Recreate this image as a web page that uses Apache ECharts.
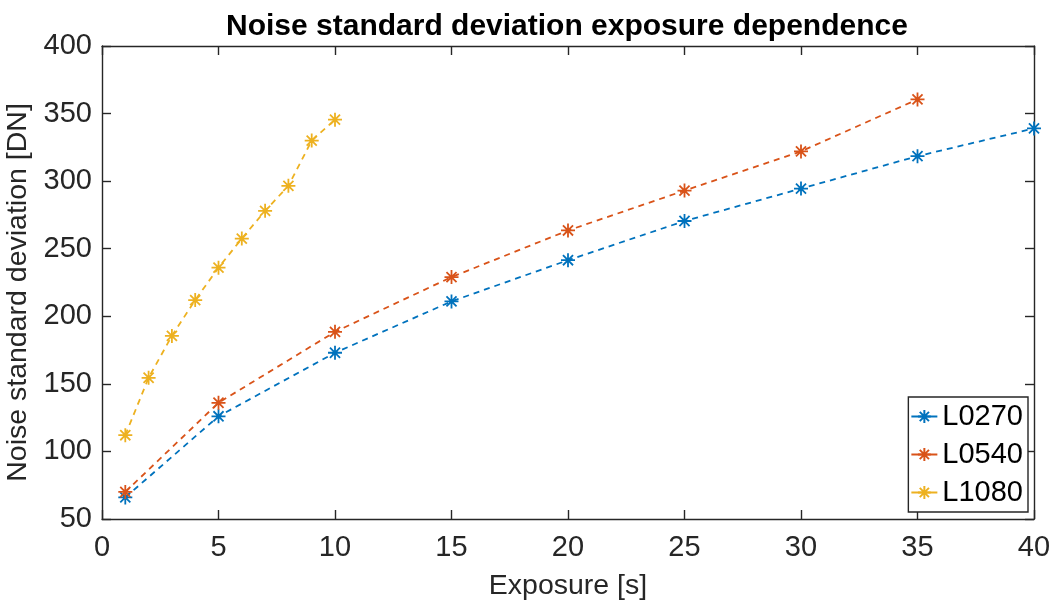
<!DOCTYPE html>
<html>
<head>
<meta charset="utf-8">
<script src="https://cdn.jsdelivr.net/npm/echarts@6/dist/echarts.min.js"></script>
<style>
  html, body { margin: 0; padding: 0; background: #fff; }
  #chart { width: 1055px; height: 605px; }
</style>
</head>
<body>
<div id="chart"></div>
<script>
// Exposure times [s] for each lamp level
const exposureL0270 = [1, 5, 10, 15, 20, 25, 30, 35, 40];
const exposureL0540 = [1, 5, 10, 15, 20, 25, 30, 35];
const exposureL1080 = [1, 2, 3, 4, 5, 6, 7, 8, 9, 10];

// Measured noise standard deviation [DN]
const noiseL0270 = [66, 126, 173, 211, 241.5, 270.5, 294.5, 318.5, 339];
const noiseL0540 = [70, 136, 188.5, 229, 263.5, 293, 322, 360.5];
const noiseL1080 = [112, 154.5, 185.5, 212, 236, 257.5, 278, 296.5, 330, 345.5];

const seriesNames = ['L0270', 'L0540', 'L1080'];
const seriesColors = ['#0072BD', '#D95319', '#EDB120'];

const xTicks = { min: 0, max: 40, interval: 5 };
const yTicks = { min: 50, max: 400, interval: 50 };

const FONT = "'Liberation Sans', Arial, Helvetica, sans-serif";
const AXIS_COLOR = '#262626';

// eight-spoke asterisk marker
const ASTERISK = 'path://M0,-1L0,1M-1,0L1,0M-0.72,-0.72L0.72,0.72M-0.72,0.72L0.72,-0.72';

function zip(xs, ys) {
  return xs.map((x, i) => [x, ys[i]]);
}

function makeSeries(name, xs, ys, color) {
  return {
    name: name,
    type: 'line',
    data: zip(xs, ys),
    clip: false,
    symbol: ASTERISK,
    symbolSize: 14,
    itemStyle: { color: 'rgba(0,0,0,0)', borderColor: color, borderWidth: 1.8 },
    lineStyle: { color: color, width: 1.8, type: [6, 5] },
    emphasis: { disabled: true },
    animation: false
  };
}

function axisLine() {
  return { show: true, onZero: false, lineStyle: { color: AXIS_COLOR, width: 1.4 } };
}
function innerTicks() {
  return { show: true, inside: true, length: 9, lineStyle: { color: AXIS_COLOR, width: 1.4 } };
}

const chart = echarts.init(document.getElementById('chart'), null, { renderer: 'canvas' });

chart.setOption({
  backgroundColor: '#ffffff',
  animation: false,
  title: {
    text: 'Noise standard deviation exposure dependence',
    left: 221,
    top: 7,
    textStyle: { fontFamily: FONT, fontSize: 30, fontWeight: 'bold', color: '#000' }
  },
  grid: { left: 102, right: 21, top: 46, bottom: 86, containLabel: false, outerBoundsMode: 'none' },
  legend: {
    orient: 'vertical',
    right: 27,
    top: 397,
    padding: [5, 5, 5, 2],
    itemGap: 9,
    itemWidth: 26,
    itemHeight: 16,
    backgroundColor: '#ffffff',
    borderColor: AXIS_COLOR,
    borderWidth: 1.4,
    borderRadius: 0,
    lineStyle: { type: 'solid' },
    textStyle: { fontFamily: FONT, fontSize: 29, color: '#000' },
    data: seriesNames
  },
  xAxis: [
    {
      type: 'value',
      position: 'bottom',
      min: xTicks.min, max: xTicks.max, interval: xTicks.interval,
      name: 'Exposure [s]',
      nameLocation: 'middle',
      nameGap: 53,
      nameTextStyle: { fontFamily: FONT, fontSize: 28.5, color: AXIS_COLOR },
      axisLine: axisLine(),
      axisTick: innerTicks(),
      axisLabel: { fontFamily: FONT, fontSize: 29, color: AXIS_COLOR, margin: 14 },
      splitLine: { show: false }
    },
    {
      type: 'value', position: 'top',
      min: xTicks.min, max: xTicks.max, interval: xTicks.interval,
      axisLine: axisLine(),
      axisTick: innerTicks(),
      axisLabel: { show: false },
      splitLine: { show: false }
    }
  ],
  yAxis: [
    {
      type: 'value',
      position: 'left',
      min: yTicks.min, max: yTicks.max, interval: yTicks.interval,
      name: 'Noise standard deviation [DN]',
      nameLocation: 'middle',
      nameGap: 57,
      nameTextStyle: { fontFamily: FONT, fontSize: 28.5, color: AXIS_COLOR, padding: [0, 20, 0, 0] },
      axisLine: axisLine(),
      axisTick: innerTicks(),
      axisLabel: { fontFamily: FONT, fontSize: 29, color: AXIS_COLOR, margin: 10 },
      splitLine: { show: false }
    },
    {
      type: 'value', position: 'right',
      min: yTicks.min, max: yTicks.max, interval: yTicks.interval,
      axisLine: axisLine(),
      axisTick: innerTicks(),
      axisLabel: { show: false },
      splitLine: { show: false }
    }
  ],
  series: [
    makeSeries(seriesNames[0], exposureL0270, noiseL0270, seriesColors[0]),
    makeSeries(seriesNames[1], exposureL0540, noiseL0540, seriesColors[1]),
    makeSeries(seriesNames[2], exposureL1080, noiseL1080, seriesColors[2])
  ]
});
</script>
</body>
</html>
